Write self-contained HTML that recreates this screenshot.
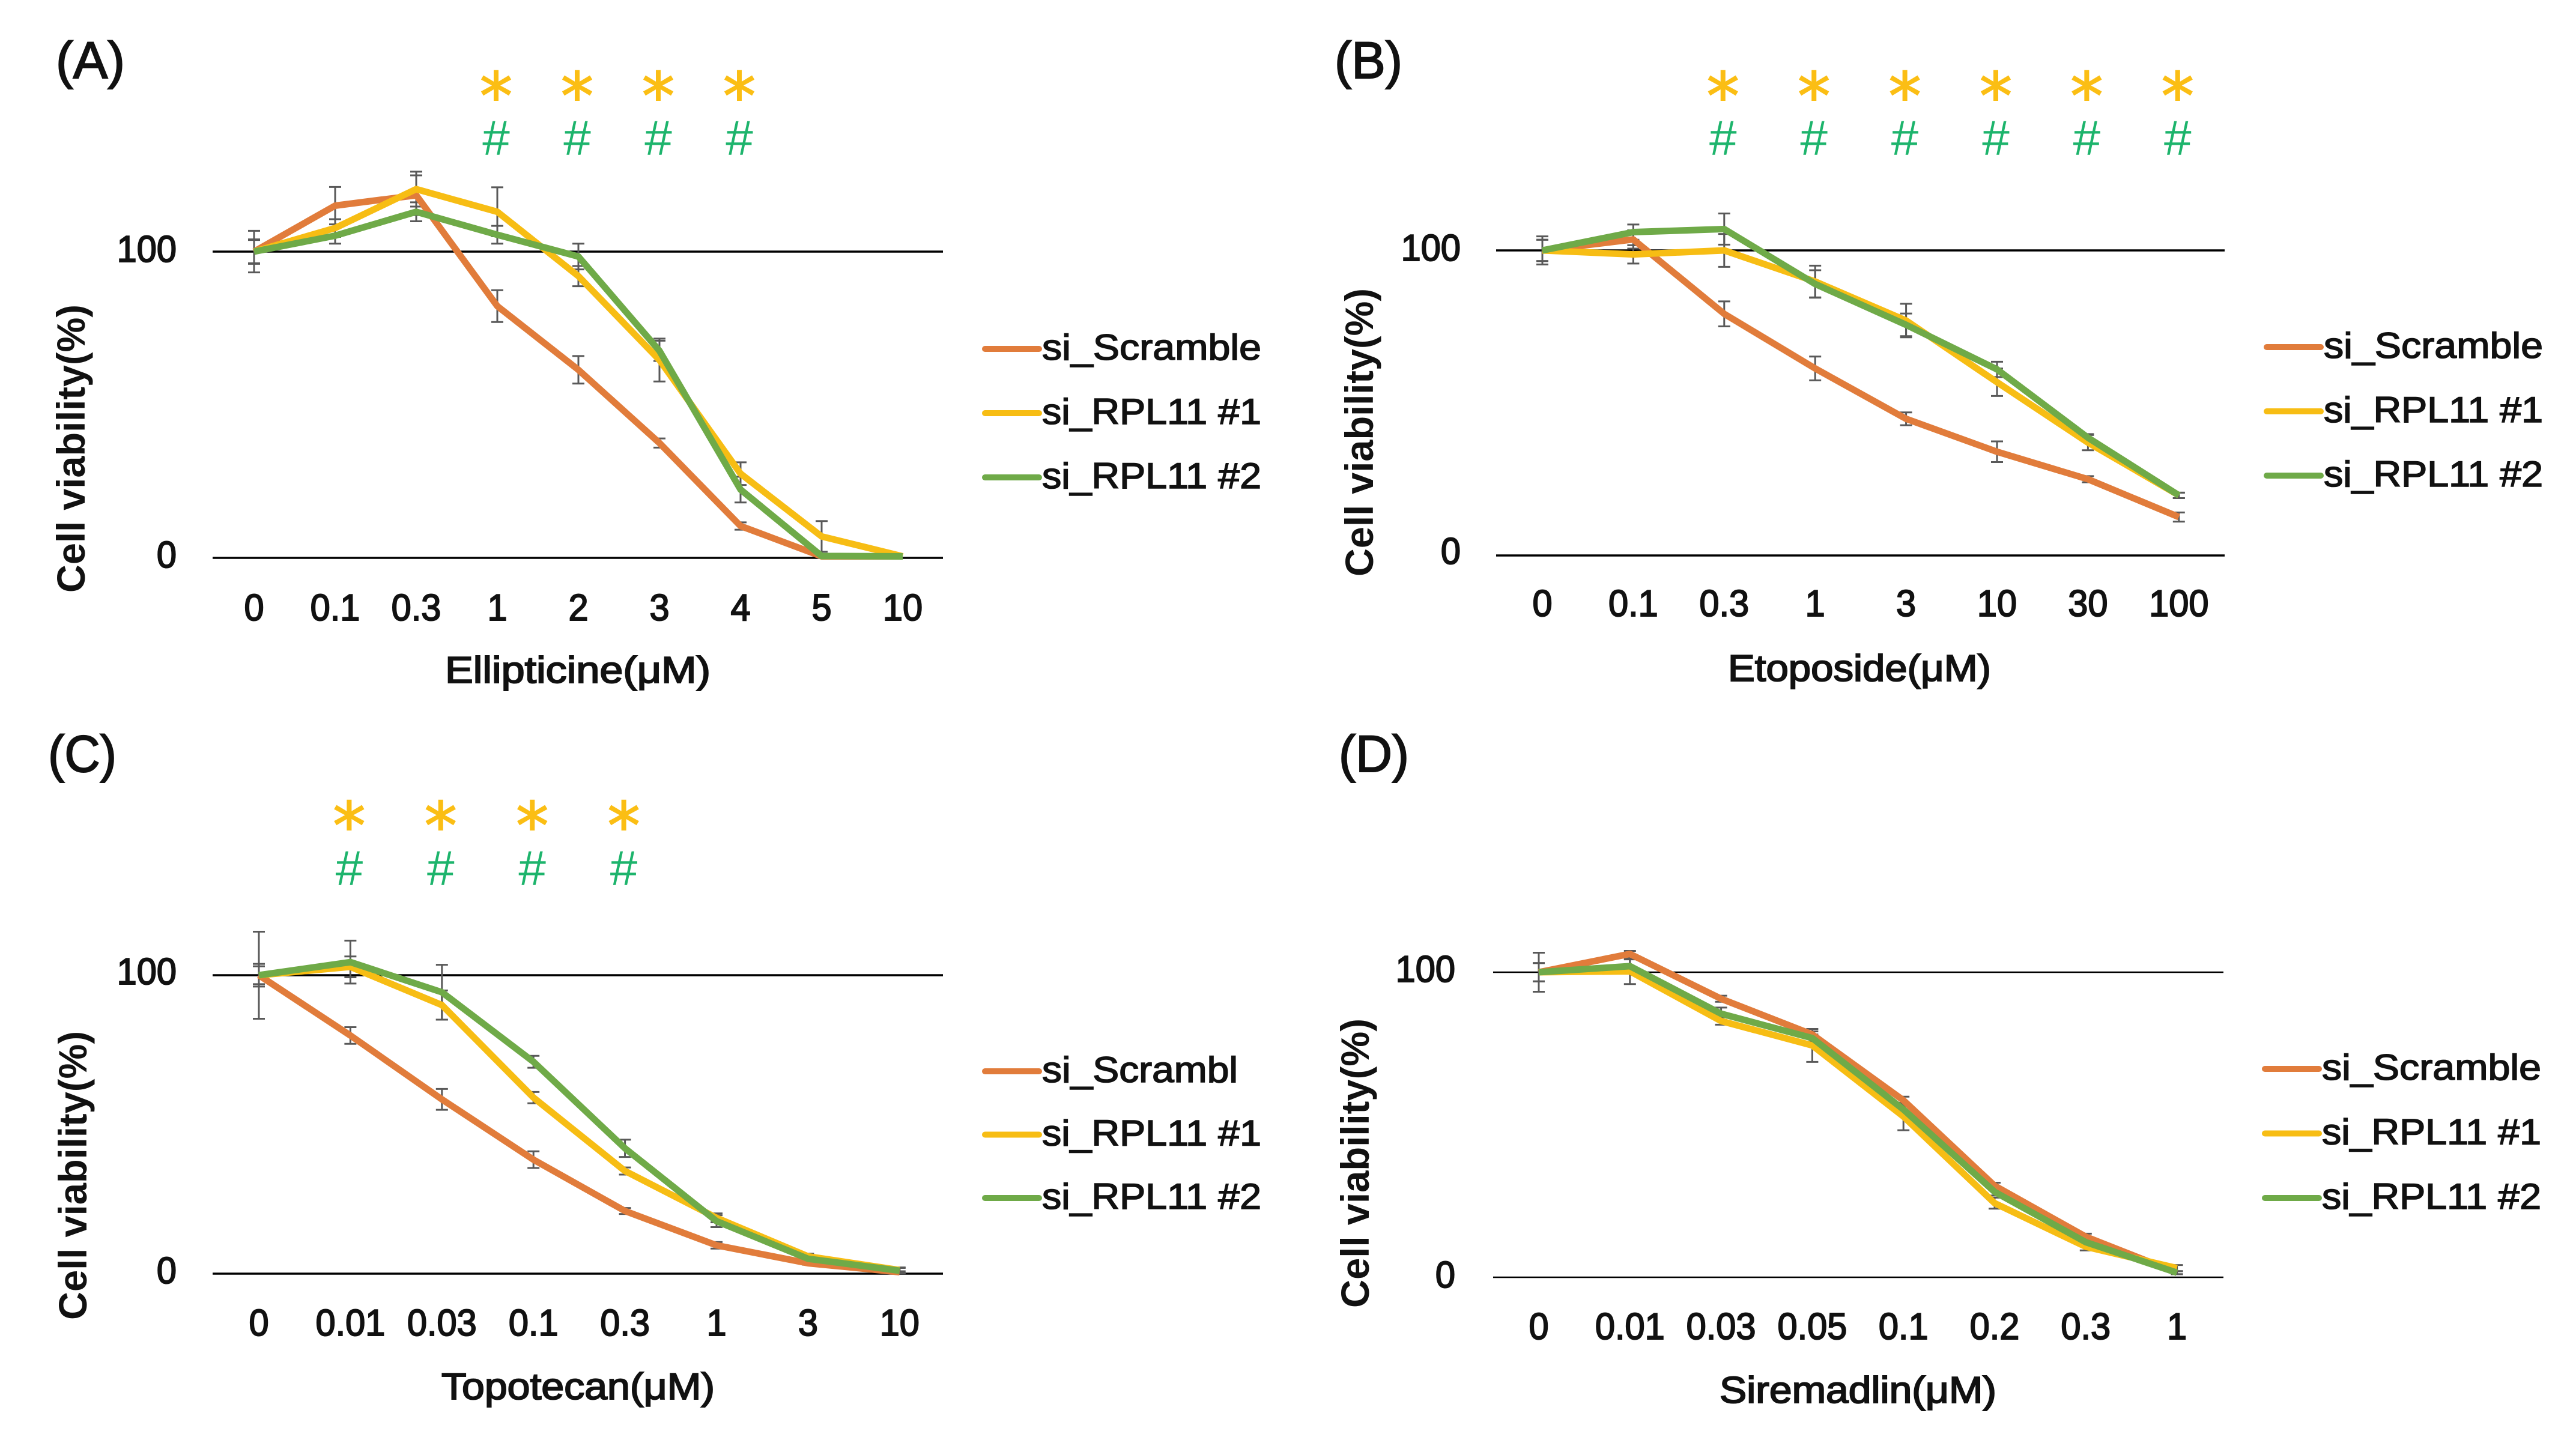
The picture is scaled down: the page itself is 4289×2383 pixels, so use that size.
<!DOCTYPE html>
<html lang="en">
<head>
<meta charset="utf-8">
<title>Cell viability panels</title>
<style>
html,body{margin:0;padding:0;background:#fff;width:4289px;height:2383px;overflow:hidden}
svg{display:block}
text{font-family:"Liberation Sans","Noto Sans CJK JP",sans-serif;fill:#111}
.panel-label{font-size:86px;stroke:#111;stroke-width:2px}
.tick{font-size:62px;text-anchor:middle;stroke:#111;stroke-width:2px}
.ylab{font-size:62px;text-anchor:end;stroke:#111;stroke-width:2px}
.title{font-size:62px;stroke:#111;stroke-width:2px}
.ytitle{font-size:66px;font-weight:bold}
.legend-text{font-size:60px;stroke:#111;stroke-width:1.6px}
.star{font-family:"DejaVu Sans",sans-serif;font-size:108px;fill:#FBBE14;stroke:#FBBE14;stroke-width:2px;text-anchor:middle}
.hash{font-size:82px;fill:#1DB46C;text-anchor:middle}
</style>
</head>
<body>
<svg id="figure" xmlns="http://www.w3.org/2000/svg" width="4289" height="2383" viewBox="0 0 4289 2383">
  <rect width="4289" height="2383" fill="#fff"/>
  <text class="panel-label" x="93" y="130" textLength="115" lengthAdjust="spacingAndGlyphs">(A)</text>
  <text class="panel-label" x="2222" y="130" textLength="113" lengthAdjust="spacingAndGlyphs">(B)</text>
  <text class="panel-label" x="80" y="1285" textLength="114" lengthAdjust="spacingAndGlyphs">(C)</text>
  <text class="panel-label" x="2229" y="1285" textLength="117" lengthAdjust="spacingAndGlyphs">(D)</text>

  <text class="title" x="741" y="1137" textLength="442" lengthAdjust="spacingAndGlyphs">Ellipticine(μM)</text>
  <text class="title" x="2877" y="1134" textLength="438" lengthAdjust="spacingAndGlyphs">Etoposide(μM)</text>
  <text class="title" x="735" y="2330" textLength="455" lengthAdjust="spacingAndGlyphs">Topotecan(μM)</text>
  <text class="title" x="2863" y="2336" textLength="461" lengthAdjust="spacingAndGlyphs">Siremadlin(μM)</text>

  <text class="ytitle" transform="translate(141 987) rotate(-90)" textLength="480" lengthAdjust="spacingAndGlyphs">Cell viability(%)</text>
  <text class="ytitle" transform="translate(2286 960) rotate(-90)" textLength="480" lengthAdjust="spacingAndGlyphs">Cell viability(%)</text>
  <text class="ytitle" transform="translate(144 2198) rotate(-90)" textLength="481" lengthAdjust="spacingAndGlyphs">Cell viability(%)</text>
  <text class="ytitle" transform="translate(2279 2178) rotate(-90)" textLength="482" lengthAdjust="spacingAndGlyphs">Cell viability(%)</text>
  <g id="plots"></g>
</svg>
<script>
// Panel A data
const categoriesA = ['0','0.1','0.3','1','2','3','4','5','10'];
const scrambleA = [100,115,118.4,82.2,61.4,37.5,10.4,0.5,0.5];
const rpl1A = [100,107.7,120.4,113,92,64.6,27.5,7,0.5];
const rpl2A = [100,105.2,113,105.5,98.4,67.6,22.3,0.6,0.5];
const errScrambleA = [6.8,6.1,6.5,5.2,4.5,1.5,1.2,0,0];
const errRpl1A = [4,2.9,5.7,8,3.3,7,3.7,5,0];
const errRpl2A = [3.8,2.6,3.1,2.9,4.2,3.3,4.2,0,0];
const sigIndexA = [3,4,5,6];

// Panel B data
const categoriesB = ['0','0.1','0.3','1','3','10','30','100'];
const scrambleB = [100,103.6,79.2,61.3,44.8,34,25,12.6];
const rpl1B = [100,98.7,100,89.8,77,56.8,37,19.7];
const rpl2B = [100,106,107,89,75.6,61,38.6,19.7];
const errScrambleB = [3.5,3,4.1,3.9,2.1,3.4,1,1.5];
const errRpl1B = [4.6,3,5.4,5.2,5.5,4.5,2.5,0.9];
const errRpl2B = [3.5,2.5,5.1,4.5,3.7,2.5,1.2,0.9];
const sigIndexB = [2,3,4,5,6,7];

// Panel C data
const categoriesC = ['0','0.01','0.03','0.1','0.3','1','3','10'];
const scrambleC = [100,79.8,58.4,38.2,21,9.5,3.5,0.5];
const rpl1C = [100,102.8,90,59,34.4,18.7,5.8,1.2];
const rpl2C = [100,104.4,94.3,71,42,17.6,5,1];
const errScrambleC = [14.6,2.8,3.5,2.8,1,1.1,0.5,0.3];
const errRpl1C = [3.8,3.5,4.9,1.9,1.2,1.5,0.9,0.9];
const errRpl2C = [3,7.2,9.2,2,2.9,2,0.9,0.9];
const sigIndexC = [1,2,3,4];

// Panel D data
const categoriesD = ['0','0.01','0.03','0.05','0.1','0.2','0.3','1'];
const scrambleD = [100,106,91.3,79.6,58,30,13.3,1.5];
const rpl1D = [100,100.3,84,76,52.7,24.3,10,3];
const rpl2D = [100,102,86.4,78.4,55,28,11.5,1.5];
const errScrambleD = [6.4,1,1,1,1.2,1,1,0.5];
const errRpl1D = [3,4.2,1.2,5.4,4.5,1.8,1.2,1];
const errRpl2D = [3,2.2,2,1.2,1,1.2,1,0.5];
const sigIndexD = [];

const yTicks = [0,100];
const seriesNames = ['si_Scramble','si_RPL11 #1','si_RPL11 #2'];
const seriesNamesC = ['si_Scrambl','si_RPL11 #1','si_RPL11 #2'];
const seriesColors = ['#E17C3B','#F7BD14','#6FAA48'];

const NS = 'http://www.w3.org/2000/svg';
const root = document.getElementById('plots');

function make(tag, attrs, parent, content) {
  const el = document.createElementNS(NS, tag);
  for (const k in attrs) el.setAttribute(k, attrs[k]);
  if (content !== undefined) el.textContent = content;
  parent.appendChild(el);
  return el;
}

function narrow(el) {
  el.setAttribute('textLength', el.getComputedTextLength() * 0.96);
  el.setAttribute('lengthAdjust', 'spacingAndGlyphs');
}

function drawPanel(p) {
  const xScale = i => p.x0 + i * p.step;
  const yScale = v => p.y0 - v * (p.y0 - p.y100) / 100;
  const g = make('g', {}, root);
  
  

  yTicks.forEach(t => {
    const y = yScale(t);
    const ax = make('line', {x1: p.axisL, x2: p.axisR, y1: y, y2: y, stroke: '#000', 'stroke-width': p.axisW}, g);
    
    
    const lab = make('text', {class: 'ylab', x: p.yLabX, y: y + (t === 0 ? p.y0Off : p.y100Off)}, g, String(t));
    
    
    narrow(lab);
  });

  p.categories.forEach((c, i) => {
    const lab = make('text', {class: 'tick', x: xScale(i), y: p.tickY}, g, c);
    
    
    narrow(lab);
  });

  // error bars beneath the lines
  p.errors.forEach((errs, s) => {
    errs.forEach((e, i) => {
      if (!e) return;
      const x = xScale(i);
      const top = yScale(p.series[s][i] + e);
      const bot = yScale(p.series[s][i] - e);
      const b = make('path', {
        d: 'M' + x + ' ' + top + 'V' + bot + 'M' + (x - 10) + ' ' + top + 'H' + (x + 10) + 'M' + (x - 10) + ' ' + bot + 'H' + (x + 10),
        fill: 'none', stroke: '#595959', 'stroke-width': 3
      }, g);
      
      
    });
  });

  p.series.forEach((vals, s) => {
    const pts = vals.map((v, i) => xScale(i) + ',' + yScale(v)).join(' ');
    const l = make('polyline', {points: pts, fill: 'none', stroke: seriesColors[s], 'stroke-width': 11, 'stroke-linejoin': 'round'}, g);
    
    
  });

  p.sig.forEach(i => {
    const st = make('text', {class: 'star', x: xScale(i) - 2, y: p.starY}, g, '*');
    
    
    const h = make('text', {class: 'hash', x: xScale(i) - 2, y: p.hashY}, g, '#');
    
    
  });

  p.names.forEach((n, s) => {
    const ly = p.legendY + s * p.legendGap;
    const sw = make('line', {x1: p.legX, x2: p.legX + 90, y1: ly, y2: ly, stroke: seriesColors[s], 'stroke-width': 10, 'stroke-linecap': 'round'}, g);
    
    
    const txtW = n === 'si_Scrambl' ? 326 : 365;
    const t = make('text', {class: 'legend-text', x: p.legX + 95, y: ly + 18, textLength: txtW, lengthAdjust: 'spacingAndGlyphs'}, g, n);
    
    
  });
}

drawPanel({categories: categoriesA, series: [scrambleA, rpl1A, rpl2A], errors: [errScrambleA, errRpl1A, errRpl2A], sig: sigIndexA, names: seriesNames,
  x0: 423, step: 135, y0: 929, y100: 419, axisL: 354, axisR: 1570, axisW: 3.5, yLabX: 294, y100Off: 17, y0Off: 16, tickY: 1033, starY: 198, hashY: 258, legX: 1640, legendY: 581, legendGap: 107});
drawPanel({categories: categoriesB, series: [scrambleB, rpl1B, rpl2B], errors: [errScrambleB, errRpl1B, errRpl2B], sig: sigIndexB, names: seriesNames,
  x0: 2568, step: 151.4, y0: 925, y100: 417, axisL: 2491, axisR: 3704, axisW: 3.5, yLabX: 2432, y100Off: 17, y0Off: 14, tickY: 1026, starY: 198, hashY: 258, legX: 3774, legendY: 578, legendGap: 107});
drawPanel({categories: categoriesC, series: [scrambleC, rpl1C, rpl2C], errors: [errScrambleC, errRpl1C, errRpl2C], sig: sigIndexC, names: seriesNamesC,
  x0: 431, step: 152.4, y0: 2121, y100: 1624, axisL: 354, axisR: 1570, axisW: 3.5, yLabX: 294, y100Off: 15, y0Off: 16, tickY: 2224, starY: 1413, hashY: 1474, legX: 1640, legendY: 1784, legendGap: 105.5});
drawPanel({categories: categoriesD, series: [scrambleD, rpl1D, rpl2D], errors: [errScrambleD, errRpl1D, errRpl2D], sig: sigIndexD, names: seriesNames,
  x0: 2562, step: 151.8, y0: 2127, y100: 1619, axisL: 2486, axisR: 3702, axisW: 2.5, yLabX: 2423, y100Off: 16, y0Off: 17, tickY: 2230, starY: 0, hashY: 0, legX: 3771, legendY: 1780, legendGap: 107.5});
</script>
</body>
</html>
